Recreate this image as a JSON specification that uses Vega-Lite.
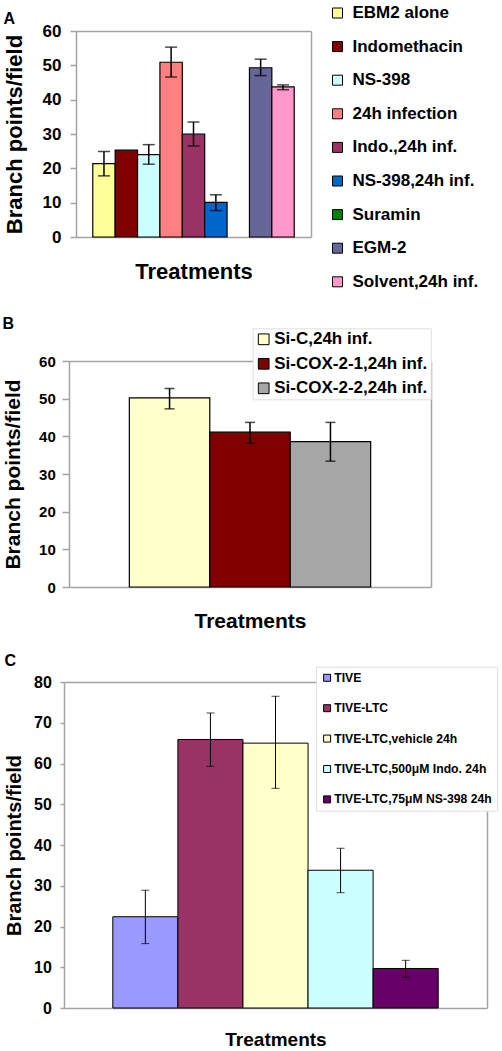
{
  "$schema": "https://vega.github.io/schema/vega-lite/v6.json",
  "background": "white",
  "padding": {"left": 2, "top": 4, "right": 2, "bottom": 2},
  "autosize": {"type": "pad"},
  "bounds": "flush",
  "spacing": 95,
  "resolve": {"scale": {"fill": "independent"}, "legend": {"fill": "independent"}},
  "config": {
    "font": "Liberation Sans",
    "view": {"stroke": null},
    "axis": {"domainColor": "#A3A3A3", "domainWidth": 1.5, "tickColor": "#A3A3A3", "tickWidth": 1.5, "labelFont": "Liberation Sans", "labelFontWeight": "bold", "labelColor": "black", "titleFont": "Liberation Sans", "titleFontWeight": "bold", "titleColor": "black", "grid": false, "labelFlush": false, "labelOverlap": false},
    "legend": {"labelFont": "Liberation Sans", "labelFontWeight": "bold", "labelColor": "black", "labelLimit": 400, "symbolType": "square", "symbolStrokeColor": "black", "symbolStrokeWidth": 1, "symbolOpacity": 1},
    "title": {"font": "Liberation Sans", "fontWeight": "bold", "color": "black"}
  },
  "vconcat": [
    {
      "width": 247,
      "height": 206,
      "title": {"text": "A", "anchor": "start", "frame": "bounds", "orient": "top", "fontSize": 16, "baseline": "alphabetic", "offset": -35.2, "dx": 0},
      "data": {"values": [
        {"t": "EBM2 alone", "v": 21.4, "lo": 17.8, "hi": 24.9},
        {"t": "Indomethacin", "v": 25.3, "lo": null, "hi": null},
        {"t": "NS-398", "v": 24.0, "lo": 21.2, "hi": 26.9},
        {"t": "24h infection", "v": 50.9, "lo": 46.6, "hi": 55.3},
        {"t": "Indo.,24h inf.", "v": 30.0, "lo": 26.5, "hi": 33.5},
        {"t": "NS-398,24h inf.", "v": 10.1, "lo": 7.7, "hi": 12.3},
        {"t": "EGM-2", "v": 49.3, "lo": 47.0, "hi": 51.8},
        {"t": "Solvent,24h inf.", "v": 43.7, "lo": 42.9, "hi": 44.3}
      ]},
      "resolve": {"axis": {"x": "independent", "y": "independent"}},
      "layer": [
        {
          "mark": {"type": "bar", "stroke": "black", "strokeWidth": 1.2},
          "encoding": {
            "x": {"field": "t", "type": "nominal", "sort": null,
              "scale": {"domain": ["EBM2 alone", "Indomethacin", "NS-398", "24h infection", "Indo.,24h inf.", "NS-398,24h inf.", "Suramin", "EGM-2", "Solvent,24h inf."], "range": [12, 247], "paddingInner": 0, "paddingOuter": 0.75},
              "axis": {"orient": "bottom", "title": "Treatments", "labels": false, "ticks": false, "titleFontSize": 22, "titlePadding": 24}},
            "y": {"field": "v", "type": "quantitative",
              "scale": {"domain": [0, 60], "nice": false, "zero": true},
              "axis": {"orient": "left", "offset": -12, "values": [0, 10, 20, 30, 40, 50, 60], "tickSize": 6, "labelPadding": 9, "labelFontSize": 17, "title": "Branch points/field", "titleFontSize": 22, "titlePadding": 15.7}},
            "fill": {"field": "t", "type": "nominal",
              "scale": {"domain": ["EBM2 alone", "Indomethacin", "NS-398", "24h infection", "Indo.,24h inf.", "NS-398,24h inf.", "Suramin", "EGM-2", "Solvent,24h inf."], "range": ["#FFFF99", "#800000", "#CCFFFF", "#FF8080", "#993366", "#0066CC", "#008000", "#666699", "#FF99CC"]},
              "legend": {"orient": "none", "legendX": 265, "legendY": -26.5, "title": null, "symbolSize": 100, "labelFontSize": 17, "rowPadding": 15.6, "labelOffset": 6.5, "padding": 0}}
          }
        },
        {
          "mark": {"type": "rule", "color": "black", "strokeWidth": 1.5},
          "encoding": {
            "x": {"field": "t", "type": "nominal", "sort": null, "axis": null},
            "y": {"field": "lo", "type": "quantitative", "axis": null},
            "y2": {"field": "hi"}
          }
        },
        {
          "mark": {"type": "tick", "color": "black", "size": 12, "thickness": 1.5},
          "encoding": {
            "x": {"field": "t", "type": "nominal", "sort": null, "axis": null},
            "y": {"field": "lo", "type": "quantitative", "axis": null}
          }
        },
        {
          "mark": {"type": "tick", "color": "black", "size": 12, "thickness": 1.5},
          "encoding": {
            "x": {"field": "t", "type": "nominal", "sort": null, "axis": {"orient": "top", "labels": false, "ticks": false, "title": null}},
            "y": {"field": "hi", "type": "quantitative", "axis": {"orient": "right", "labels": false, "ticks": false, "title": null}}
          }
        }
      ]
    },
    {
      "width": 367,
      "height": 255,
      "title": {"text": "B", "anchor": "start", "frame": "bounds", "orient": "top", "fontSize": 16, "baseline": "alphabetic", "offset": -16.7, "dx": 0},
      "data": {"values": [
        {"t": "Si-C,24h inf.", "v": 50.2, "lo": 47.3, "hi": 52.7},
        {"t": "Si-COX-2-1,24h inf.", "v": 41.1, "lo": 38.2, "hi": 43.7},
        {"t": "Si-COX-2-2,24h inf.", "v": 38.6, "lo": 33.4, "hi": 43.7}
      ]},
      "resolve": {"axis": {"x": "independent", "y": "independent"}},
      "layer": [
        {
          "mark": {"type": "bar", "stroke": "black", "strokeWidth": 1.2},
          "encoding": {
            "x": {"field": "t", "type": "nominal", "sort": null,
              "scale": {"domain": ["Si-C,24h inf.", "Si-COX-2-1,24h inf.", "Si-COX-2-2,24h inf."], "range": [5, 367], "paddingInner": 0, "paddingOuter": 0.75},
              "axis": {"orient": "bottom", "title": "Treatments", "labels": false, "ticks": false, "titleFontSize": 21, "titlePadding": 23}},
            "y": {"field": "v", "type": "quantitative",
              "scale": {"domain": [0, 60], "nice": false, "zero": true, "range": [255, 29]},
              "axis": {"orient": "left", "offset": -5, "values": [0, 10, 20, 30, 40, 50, 60], "tickSize": 7, "labelPadding": 6.7, "labelFontSize": 15, "title": "Branch points/field", "titleFontSize": 21, "titlePadding": 15.2}},
            "fill": {"field": "t", "type": "nominal",
              "scale": {"domain": ["Si-C,24h inf.", "Si-COX-2-1,24h inf.", "Si-COX-2-2,24h inf."], "range": ["#FFFFCC", "#800000", "#A6A6A6"]},
              "legend": {"orient": "none", "legendX": 188.7, "legendY": -3.7, "title": null, "symbolSize": 115, "labelFontSize": 17, "rowPadding": 6.5, "labelOffset": 2, "padding": 2.5, "strokeColor": "#E0E0E0", "fillColor": "white"}}
          }
        },
        {
          "mark": {"type": "rule", "color": "black", "strokeWidth": 1.5},
          "encoding": {
            "x": {"field": "t", "type": "nominal", "sort": null, "axis": null},
            "y": {"field": "lo", "type": "quantitative", "axis": null},
            "y2": {"field": "hi"}
          }
        },
        {
          "mark": {"type": "tick", "color": "black", "size": 10, "thickness": 1.5},
          "encoding": {
            "x": {"field": "t", "type": "nominal", "sort": null, "axis": null},
            "y": {"field": "lo", "type": "quantitative", "axis": null}
          }
        },
        {
          "mark": {"type": "tick", "color": "black", "size": 10, "thickness": 1.5},
          "encoding": {
            "x": {"field": "t", "type": "nominal", "sort": null, "axis": {"orient": "top", "offset": -29, "labels": false, "ticks": false, "title": null}},
            "y": {"field": "hi", "type": "quantitative", "axis": {"orient": "right", "labels": false, "ticks": false, "title": null}}
          }
        }
      ]
    },
    {
      "width": 423,
      "height": 326,
      "title": {"text": "C", "anchor": "start", "frame": "bounds", "orient": "top", "fontSize": 16, "baseline": "alphabetic", "offset": -15.3, "dx": 0},
      "data": {"values": [
        {"t": "TIVE", "v": 22.4, "lo": 15.8, "hi": 28.9},
        {"t": "TIVE-LTC", "v": 65.9, "lo": 59.3, "hi": 72.4},
        {"t": "TIVE-LTC,vehicle 24h", "v": 65.0, "lo": 53.9, "hi": 76.5},
        {"t": "TIVE-LTC,500μM Indo. 24h", "v": 33.8, "lo": 28.3, "hi": 39.2},
        {"t": "TIVE-LTC,75μM NS-398 24h", "v": 9.7, "lo": 7.5, "hi": 11.7}
      ]},
      "resolve": {"axis": {"x": "independent", "y": "independent"}},
      "layer": [
        {
          "mark": {"type": "bar", "stroke": "black", "strokeWidth": 1},
          "encoding": {
            "x": {"field": "t", "type": "nominal", "sort": null,
              "scale": {"domain": ["TIVE", "TIVE-LTC", "TIVE-LTC,vehicle 24h", "TIVE-LTC,500μM Indo. 24h", "TIVE-LTC,75μM NS-398 24h"], "paddingInner": 0, "paddingOuter": 0.75},
              "axis": {"orient": "bottom", "title": "Treatments", "labels": false, "ticks": false, "titleFontSize": 19, "titlePadding": 22}},
            "y": {"field": "v", "type": "quantitative",
              "scale": {"domain": [0, 80], "nice": false, "zero": true},
              "axis": {"orient": "left", "values": [0, 10, 20, 30, 40, 50, 60, 70, 80], "tickSize": 4, "labelPadding": 8.7, "labelFontSize": 16, "title": "Branch points/field", "titleFontSize": 20, "titlePadding": 9}},
            "fill": {"field": "t", "type": "nominal",
              "scale": {"domain": ["TIVE", "TIVE-LTC", "TIVE-LTC,vehicle 24h", "TIVE-LTC,500μM Indo. 24h", "TIVE-LTC,75μM NS-398 24h"], "range": ["#9999FF", "#993366", "#FFFFCC", "#CCFFFF", "#660066"]},
              "legend": {"orient": "none", "legendX": 252, "legendY": -15.3, "title": null, "symbolSize": 49, "labelFontSize": 12.2, "rowPadding": 17.4, "labelOffset": 1, "padding": 5, "strokeColor": "#E0E0E0", "fillColor": "white"}}
          }
        },
        {
          "mark": {"type": "rule", "color": "black", "strokeWidth": 1},
          "encoding": {
            "x": {"field": "t", "type": "nominal", "sort": null, "axis": null},
            "y": {"field": "lo", "type": "quantitative", "axis": null},
            "y2": {"field": "hi"}
          }
        },
        {
          "mark": {"type": "tick", "color": "black", "size": 8, "thickness": 1},
          "encoding": {
            "x": {"field": "t", "type": "nominal", "sort": null, "axis": null},
            "y": {"field": "lo", "type": "quantitative", "axis": null}
          }
        },
        {
          "mark": {"type": "tick", "color": "black", "size": 8, "thickness": 1},
          "encoding": {
            "x": {"field": "t", "type": "nominal", "sort": null, "axis": {"orient": "top", "labels": false, "ticks": false, "title": null}},
            "y": {"field": "hi", "type": "quantitative", "axis": {"orient": "right", "labels": false, "ticks": false, "title": null}}
          }
        }
      ]
    }
  ]
}
